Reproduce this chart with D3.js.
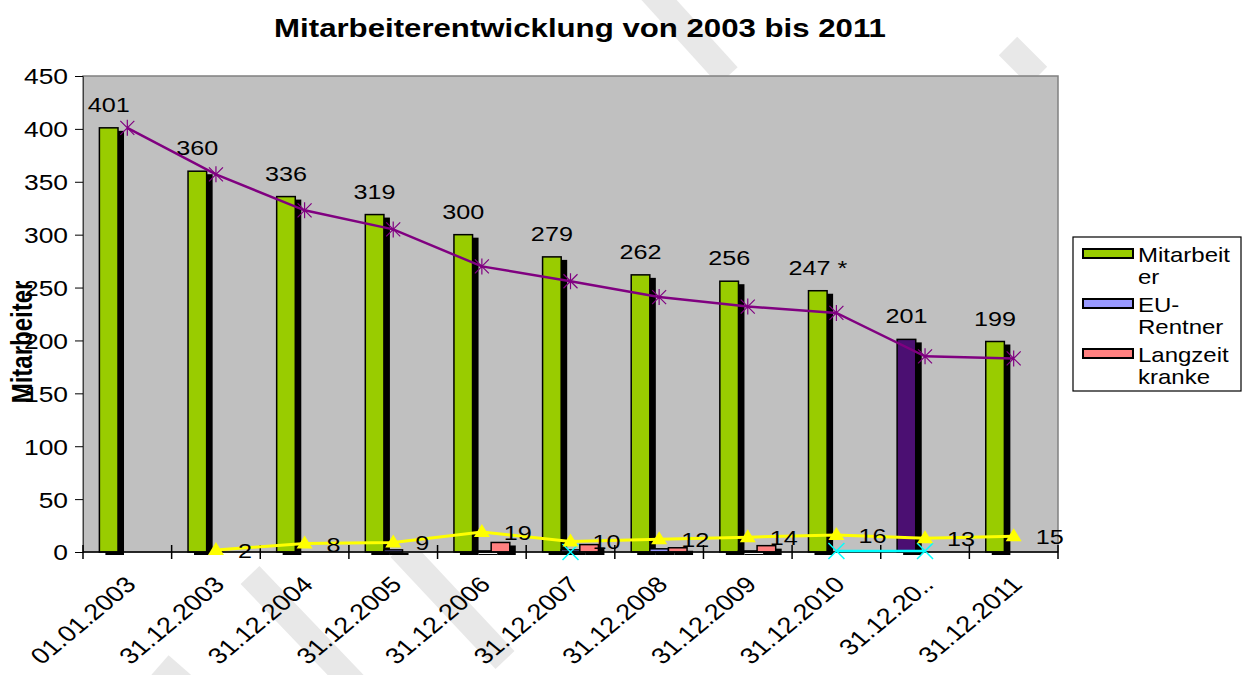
<!DOCTYPE html>
<html>
<head>
<meta charset="utf-8">
<script src="https://cdn.jsdelivr.net/npm/d3@7"></script>
<style>
  body { margin: 0; background: #fff; }
  svg text { font-family: "Liberation Sans", Arial, sans-serif; fill: #000; }
</style>
</head>
<body>
<div id="chart"></div>
<script>
// chart values
const categories = ["01.01.2003", "31.12.2003", "31.12.2004", "31.12.2005", "31.12.2006",
  "31.12.2007", "31.12.2008", "31.12.2009", "31.12.2010", "31.12.20..", "31.12.2011"];
const mitarbeiter = [401, 360, 336, 319, 300, 279, 262, 256, 247, 201, 199];
const mitarbeiterLabels = ["401", "360", "336", "319", "300", "279", "262", "256", "247 *", "201", "199"];
const euRentner = [0, 0, 0, 2, 1, 2, 3, 1, 0, 0, 0];
const langzeitkranke = [0, 0, 0, 0, 9, 7, 4, 6, 0, 0, 0];
const trendLine = [401, 357, 323, 305, 270, 256, 241, 232, 226, 185, 183];
const yellowLine = [null, 2, 8, 9, 19, 10, 12, 14, 16, 13, 15];
const cyanLine = [null, null, null, null, null, 0, null, null, 1, 1, null];
const yTicks = [0, 50, 100, 150, 200, 250, 300, 350, 400, 450];
const legendItems = [
  { lines: ["Mitarbeit", "er"], color: "#99cc00" },
  { lines: ["EU-", "Rentner"], color: "#9999ff" },
  { lines: ["Langzeit", "kranke"], color: "#ff8080" }
];

const W = 1247, H = 675;
const plot = { left: 83, right: 1058, top: 76, bottom: 552 };
const stretch = 1.2; // the original picture is stretched horizontally

const svg = d3.select("#chart").append("svg")
  .attr("width", W).attr("height", H);

// watermark bands (decoration behind the chart)
const bands = [
  [650, -10, 728, 76], [1008, 46, 1038, 76],
  [250, 575, 360, 690], [400, 548, 505, 660], [160, 665, 200, 700]
];
svg.append("g").selectAll("line").data(bands).enter().append("line")
  .attr("x1", d => d[0]).attr("y1", d => d[1])
  .attr("x2", d => d[2]).attr("y2", d => d[3])
  .style("stroke", "#e8e8e8").style("stroke-width", 26);

const x = d3.scaleBand().domain(categories).range([plot.left, plot.right]);
const y = d3.scaleLinear().domain([0, 450]).range([plot.bottom, plot.top]);
const cx = c => x(c) + x.bandwidth() / 2;
const bw = x.bandwidth() * 0.21;

// plot area
svg.append("rect")
  .attr("x", plot.left).attr("y", plot.top)
  .attr("width", plot.right - plot.left).attr("height", plot.bottom - plot.top)
  .style("fill", "#c0c0c0").style("stroke", "#808080").style("stroke-width", 1.5);

// title
svg.append("text")
  .attr("transform", `translate(580, 37) scale(${stretch},1)`)
  .style("text-anchor", "middle").style("font-weight", "bold").style("font-size", "26px")
  .text("Mitarbeiterentwicklung von 2003 bis 2011");

// y axis
const yAxis = d3.axisLeft(y).tickValues(yTicks).tickSize(8).tickFormat(d3.format("d"));
const gy = svg.append("g")
  .attr("transform", `translate(${plot.left},0)`)
  .call(yAxis);
gy.select(".domain").style("stroke", "#404040");
gy.selectAll(".tick line").style("stroke", "#000");
gy.selectAll(".tick text")
  .attr("x", 0).attr("dy", "0.36em")
  .attr("transform", `translate(-15,0) scale(${stretch},1)`)
  .style("font-size", "22px").style("font-family", "Liberation Sans, Arial, sans-serif");

// y title
svg.append("text")
  .attr("transform", `translate(32, 342) rotate(-90) scale(1,${stretch})`)
  .style("text-anchor", "middle").style("font-weight", "bold").style("font-size", "24px")
  .text("Mitarbeiter");

// bars with 3d shadow
const barSeries = [
  { values: mitarbeiter, offset: -1.5, color: (d, i) => categories[i] === "31.12.20.." ? "#4b0f72" : "#99cc00" },
  { values: euRentner, offset: -0.5, color: () => "#9999ff" },
  { values: langzeitkranke, offset: 0.5, color: () => "#ff8080" }
];
barSeries.forEach(s => {
  const data = s.values.map((v, i) => ({ v, i, c: categories[i] })).filter(d => d.v > 0);
  const g = svg.append("g");
  g.selectAll("rect.shadow").data(data).enter().append("rect")
    .attr("class", "shadow")
    .attr("x", d => cx(d.c) + s.offset * bw + 6)
    .attr("y", d => y(d.v) + 3)
    .attr("width", bw)
    .attr("height", d => y(0) - y(d.v))
    .style("fill", "#000");
  g.selectAll("rect.face").data(data).enter().append("rect")
    .attr("class", "face")
    .attr("x", d => cx(d.c) + s.offset * bw)
    .attr("y", d => y(d.v))
    .attr("width", bw)
    .attr("height", d => y(0) - y(d.v))
    .style("fill", d => s.color(d, d.i))
    .style("stroke", "#000").style("stroke-width", 1.5);
});

// x axis line and boundary ticks
svg.append("line")
  .attr("x1", plot.left).attr("x2", plot.right)
  .attr("y1", plot.bottom).attr("y2", plot.bottom)
  .style("stroke", "#000").style("stroke-width", 1.5);
const bounds = categories.map(c => x(c)).concat([plot.right]);
svg.append("g").selectAll("line").data(bounds).enter().append("line")
  .attr("x1", d => d).attr("x2", d => d)
  .attr("y1", plot.bottom - 7).attr("y2", plot.bottom + 7)
  .style("stroke", "#000").style("stroke-width", 1.5);

// x labels
svg.append("g").selectAll("text").data(categories).enter().append("text")
  .attr("transform", d => `translate(${cx(d) + 10}, 586) scale(${stretch},1) rotate(-45)`)
  .style("text-anchor", "end").style("font-size", "22.5px")
  .text(d => d);

// bar value labels
svg.append("g").selectAll("text").data(mitarbeiter).enter().append("text")
  .attr("transform", (d, i) => `translate(${cx(categories[i]) - bw}, ${y(d) - 16}) scale(${stretch},1)`)
  .style("text-anchor", "middle").style("font-size", "21px")
  .text((d, i) => mitarbeiterLabels[i]);

// trend line (purple, star markers)
const line = d3.line()
  .defined(d => d.v != null)
  .x(d => cx(d.c)).y(d => y(d.v));
const trendData = trendLine.map((v, i) => ({ v, c: categories[i] }));
svg.append("path").datum(trendData)
  .attr("d", line)
  .style("fill", "none").style("stroke", "#800080").style("stroke-width", 2.5);
const star = svg.append("g").selectAll("g").data(trendData).enter().append("g")
  .attr("transform", d => `translate(${cx(d.c)},${y(d.v)})`);
star.append("path")
  .attr("d", "M-7,-7L7,7M-7,7L7,-7M0,-8L0,8")
  .style("stroke", "#800080").style("stroke-width", 1.2);

// cyan line (x markers)
const cyanData = cyanLine.map((v, i) => ({ v, c: categories[i] }));
svg.append("path").datum(cyanData)
  .attr("d", line)
  .style("fill", "none").style("stroke", "#00ffff").style("stroke-width", 2.5);
svg.append("g").selectAll("path").data(cyanData.filter(d => d.v != null)).enter().append("path")
  .attr("transform", d => `translate(${cx(d.c)},${y(d.v)})`)
  .attr("d", "M-8,-8L8,8M-8,8L8,-8")
  .style("stroke", "#00ffff").style("stroke-width", 1.5);

// yellow line (triangle markers)
const yellowData = yellowLine.map((v, i) => ({ v, c: categories[i] }));
svg.append("path").datum(yellowData)
  .attr("d", line)
  .style("fill", "none").style("stroke", "#ffff00").style("stroke-width", 3);
svg.append("g").selectAll("path").data(yellowData.filter(d => d.v != null)).enter().append("path")
  .attr("transform", d => `translate(${cx(d.c)},${y(d.v)})`)
  .attr("d", "M0,-8L8,5L-8,5Z")
  .style("fill", "#ffff00");
svg.append("g").selectAll("text").data(yellowData.filter(d => d.v != null)).enter().append("text")
  .attr("transform", d => `translate(${cx(d.c) + 22},${y(d.v) + 8}) scale(${stretch},1)`)
  .style("font-size", "21px")
  .text(d => d.v);

// legend
const lg = svg.append("g");
lg.append("rect")
  .attr("x", 1073).attr("y", 237).attr("width", 168).attr("height", 154)
  .style("fill", "#fff").style("stroke", "#000").style("stroke-width", 1.2);
legendItems.forEach((item, k) => {
  const top = 262 + k * 50;
  lg.append("rect")
    .attr("x", 1083).attr("y", top - 13).attr("width", 50).attr("height", 9)
    .style("fill", item.color).style("stroke", "#000").style("stroke-width", 2);
  item.lines.forEach((t, j) => {
    lg.append("text")
      .attr("transform", `translate(1138, ${top + j * 22}) scale(${stretch},1)`)
      .style("font-size", "20px")
      .text(t);
  });
});
</script>
</body>
</html>
